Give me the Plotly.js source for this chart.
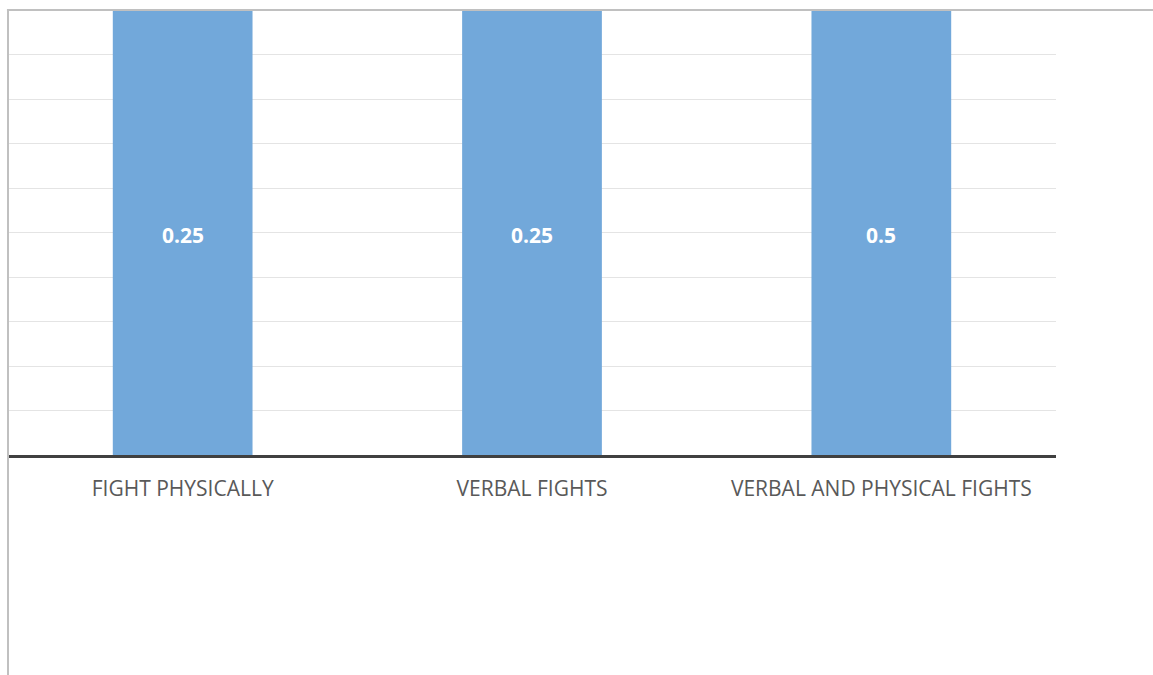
<!DOCTYPE html>
<html>
<head>
<meta charset="utf-8">
<script src="https://cdn.plot.ly/plotly-3.0.1.min.js"></script>
<style>html,body{margin:0;padding:0;background:#fff;}#chart{width:1153px;height:675px;}</style>
</head>
<body>
<div id="chart"></div>
<script>
const categories = ["FIGHT PHYSICALLY", "VERBAL FIGHTS", "VERBAL AND PHYSICAL FIGHTS"];
const values = [0.25, 0.25, 0.5];
const valueLabels = ["0.25", "0.25", "0.5"];
const yMax = 0.1;

const trace = {
  type: "bar",
  x: categories,
  y: values,
  marker: {color: "#72a8da"},
  hoverinfo: "none",
  cliponaxis: true
};

const annotations = categories.map((c, i) => ({
  x: c, y: yMax / 2, xref: "x", yref: "y",
  yshift: -2,
  text: "<b>" + valueLabels[i] + "</b>",
  showarrow: false,
  font: {family: "Open Sans, sans-serif", size: 21, color: "#ffffff"}
}));

const layout = {
  width: 1153, height: 675,
  margin: {l: 8, r: 97, t: 10, b: 220},
  paper_bgcolor: "#ffffff",
  plot_bgcolor: "#ffffff",
  showlegend: false,
  bargap: 0.6,
  xaxis: {
    showline: true, linecolor: "#404040", linewidth: 3,
    ticks: "outside", ticklen: 13, tickcolor: "rgba(0,0,0,0)",
    tickfont: {family: "Open Sans, sans-serif", size: 21, color: "#595959"},
    showgrid: false, fixedrange: true
  },
  yaxis: {
    range: [0, yMax], dtick: yMax / 10,
    showticklabels: false, showgrid: true, gridcolor: "#e4e4e4", gridwidth: 1,
    zeroline: false, showline: false, fixedrange: true
  },
  annotations: annotations,
  shapes: [
    {type: "line", xref: "paper", yref: "paper", x0: -0.001, x1: 1.1, y0: 1, y1: 1,
     line: {color: "#c0c0c0", width: 2}, layer: "above"},
    {type: "line", xref: "paper", yref: "paper", x0: 0, x1: 0, y0: 1, y1: -0.55,
     line: {color: "#c0c0c0", width: 2}, layer: "above"}
  ]
};

Plotly.newPlot("chart", [trace], layout, {displayModeBar: false, staticPlot: true});
</script>
</body>
</html>
